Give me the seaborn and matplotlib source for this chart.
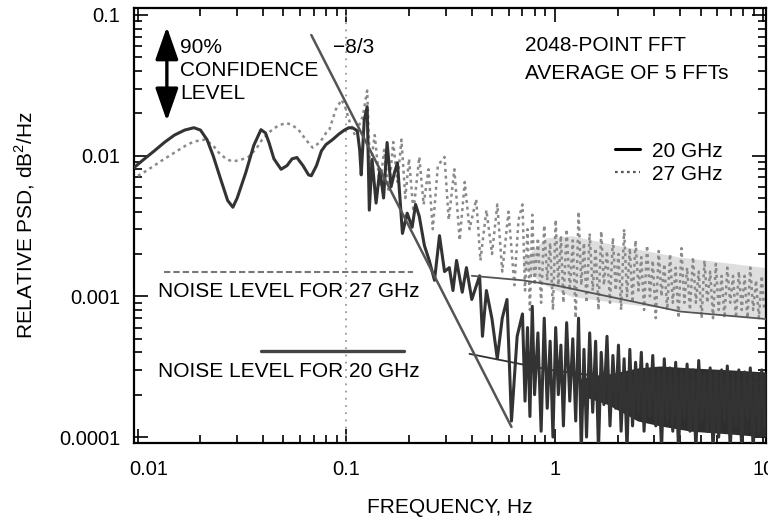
import numpy as np
import pandas as pd
import matplotlib
matplotlib.use("Agg")
import matplotlib.pyplot as plt
import matplotlib.transforms as mtransforms
import seaborn as sns
from matplotlib.lines import Line2D
from matplotlib.ticker import LogLocator, NullFormatter

# ---------------- data ----------------
x_ticks = [0.01, 0.1, 1, 10]
x_tick_labels = ["0.01", "0.1", "1", "10"]
y_ticks = [0.0001, 0.001, 0.01, 0.1]
y_tick_labels = ["0.0001", "0.001", "0.01", "0.1"]

# 20 GHz, low / mid frequencies
f20_lo = [0.0094, 0.0105, 0.012, 0.0135, 0.015, 0.0168, 0.0186, 0.020, 0.0215, 0.023,
          0.025, 0.027, 0.0286, 0.030, 0.033, 0.036, 0.039, 0.041, 0.0426, 0.045,
          0.0487, 0.052, 0.055, 0.058, 0.062, 0.066, 0.068, 0.072, 0.076, 0.080,
          0.086, 0.092, 0.098, 0.103, 0.108, 0.113, 0.116, 0.118, 0.122, 0.126,
          0.129, 0.133, 0.139, 0.145, 0.151, 0.157, 0.164, 0.170, 0.176, 0.186,
          0.196, 0.207, 0.215, 0.224, 0.237, 0.25, 0.265, 0.28, 0.296, 0.312,
          0.325, 0.338, 0.36, 0.377, 0.40, 0.436, 0.45, 0.47, 0.50, 0.53,
          0.56, 0.59, 0.62, 0.66]
p20_lo = [0.0080, 0.0092, 0.0108, 0.0125, 0.0140, 0.0152, 0.0158, 0.0152, 0.0130, 0.0100,
          0.0068, 0.0048, 0.0043, 0.0050, 0.0076, 0.0118, 0.0153, 0.0145, 0.0124, 0.0095,
          0.0080, 0.0085, 0.0095, 0.0097, 0.0085, 0.0073, 0.0072, 0.0085, 0.0108, 0.0120,
          0.0130, 0.0142, 0.0152, 0.0158, 0.0157, 0.0150, 0.0110, 0.0073, 0.0180, 0.0223,
          0.0041, 0.0094, 0.0046, 0.0080, 0.0050, 0.0124, 0.0060, 0.0075, 0.0089, 0.0028,
          0.0039, 0.0031, 0.0045, 0.0037, 0.0023, 0.0018, 0.0013, 0.0027, 0.0015, 0.0016,
          0.0011, 0.0018, 0.00107, 0.0016, 0.00095, 0.0014, 0.00052, 0.0011, 0.00069, 0.00036,
          0.0007, 0.00095, 0.00013, 0.00052]

# 27 GHz, low / mid frequencies
f27_lo = [0.0094, 0.011, 0.013, 0.015, 0.017, 0.0186, 0.021, 0.023, 0.0245, 0.0265,
          0.0284, 0.031, 0.034, 0.037, 0.0395, 0.043, 0.047, 0.0515, 0.055, 0.059,
          0.064, 0.069, 0.075, 0.080, 0.083, 0.089, 0.095, 0.099, 0.103, 0.11,
          0.12, 0.126, 0.13, 0.137, 0.145, 0.152, 0.16, 0.168, 0.176, 0.184,
          0.192, 0.20, 0.21, 0.224, 0.235, 0.248, 0.26, 0.275, 0.296, 0.31,
          0.33, 0.35, 0.37, 0.39, 0.42, 0.44, 0.47, 0.50, 0.53, 0.56,
          0.60, 0.64, 0.67]
p27_lo = [0.0068, 0.0078, 0.0092, 0.0105, 0.0118, 0.0126, 0.0130, 0.0118, 0.0105, 0.0095,
          0.0091, 0.0093, 0.0098, 0.0112, 0.0130, 0.0148, 0.0163, 0.0171, 0.0165, 0.0153,
          0.0130, 0.0114, 0.0125, 0.0145, 0.0153, 0.0212, 0.025, 0.022, 0.018, 0.014,
          0.019, 0.029, 0.008, 0.014, 0.006, 0.011, 0.0055, 0.0125, 0.0065, 0.013,
          0.005, 0.0095, 0.004, 0.0098, 0.0045, 0.008, 0.003, 0.0085, 0.0098, 0.0035,
          0.0080, 0.0025, 0.0065, 0.0030, 0.0049, 0.0018, 0.0041, 0.0020, 0.0045, 0.0015,
          0.0040, 0.0012, 0.0035]

# high-frequency bins (shared by both channels)
f_hi = [0.70, 0.72, 0.74, 0.76, 0.78, 0.80, 0.83, 0.86, 0.89, 0.92,
        0.95, 0.98, 1.01, 1.04, 1.07, 1.10, 1.14, 1.18, 1.22, 1.26,
        1.30, 1.34, 1.38, 1.42, 1.47, 1.52, 1.57, 1.62, 1.67, 1.72,
        1.78, 1.84, 1.90, 1.96, 2.02, 2.08, 2.15, 2.22, 2.29, 2.36,
        2.44, 2.52, 2.60, 2.68, 2.77, 2.86, 2.95, 3.05, 3.15, 3.25,
        3.35, 3.46, 3.57, 3.68, 3.80, 3.92, 4.05, 4.18, 4.31, 4.45,
        4.60, 4.75, 4.90, 5.06, 5.22, 5.39, 5.56, 5.74, 5.92, 6.11,
        6.31, 6.51, 6.72, 6.94, 7.16, 7.39, 7.63, 7.88, 8.13, 8.39,
        8.66, 8.94, 9.23, 9.52, 9.83, 10.1]
p20_hi = [0.00075, 0.00018, 0.00060, 0.00014, 0.00085, 0.00020, 0.00055, 0.00011, 0.00070, 0.00016,
          0.00048, 0.00010, 0.00060, 0.00020, 0.00045, 0.00012, 0.00065, 0.00018, 0.00050, 0.00013,
          0.00070, 0.00008, 0.00042, 0.00010, 0.00055, 0.00015, 0.00048, 0.00008, 0.00040, 0.00017,
          0.00052, 0.00012, 0.00038, 0.00016, 0.00045, 0.00011, 0.00036, 0.00008, 0.00042, 0.00012,
          0.00034, 0.00015, 0.00040, 0.00011, 0.00033, 0.00014, 0.00038, 0.00012, 0.00030, 0.00008,
          0.00036, 0.00013, 0.00031, 0.00011, 0.00034, 0.00008, 0.00029, 0.00014, 0.00033, 0.00011,
          0.00030, 0.00008, 0.00035, 0.00013, 0.00028, 0.00011, 0.00031, 0.00008, 0.00029, 0.00010,
          0.00030, 0.00013, 0.00032, 0.00008, 0.00028, 0.00012, 0.00030, 0.00008, 0.00029, 0.00013,
          0.00031, 0.00008, 0.00028, 0.00011, 0.00030, 0.00012]
p27_hi = [0.0045, 0.0011, 0.0030, 0.0008, 0.0038, 0.0012, 0.0026, 0.0009, 0.0032, 0.0013,
          0.0024, 0.0008, 0.0035, 0.0012, 0.0027, 0.0009, 0.0030, 0.0011, 0.0025, 0.0007,
          0.0040, 0.0012, 0.0024, 0.0009, 0.0028, 0.0011, 0.0022, 0.0008, 0.0029, 0.0012,
          0.0021, 0.0009, 0.0026, 0.0011, 0.0020, 0.0008, 0.0030, 0.0010, 0.0022, 0.0009,
          0.0025, 0.0011, 0.0019, 0.0008, 0.0023, 0.0010, 0.0018, 0.0007, 0.0021, 0.0010,
          0.0017, 0.0008, 0.0020, 0.0009, 0.0016, 0.0007, 0.0022, 0.0009, 0.0016, 0.0008,
          0.0019, 0.0009, 0.0015, 0.0007, 0.0018, 0.0009, 0.0015, 0.0007, 0.0017, 0.0008,
          0.0014, 0.0007, 0.0016, 0.0009, 0.0014, 0.0007, 0.0015, 0.0008, 0.0014, 0.0007,
          0.0016, 0.0008, 0.0013, 0.0007, 0.0014, 0.0008]

# dense cores of the high-frequency scatter (envelopes)
band20_f = [1.3, 1.8, 2.5, 3.2, 4.5, 7.0, 10.3]
band20_lo = [0.00020, 0.00017, 0.00013, 0.00012, 0.00011, 0.000105, 0.0001]
band20_hi = [0.00026, 0.00028, 0.00031, 0.00032, 0.00031, 0.00030, 0.00029]
band27_f = [0.7, 0.9, 1.2, 2.0, 4.0, 10.3]
band27_lo = [0.0016, 0.0012, 0.0010, 0.0009, 0.0008, 0.0007]
band27_hi = [0.0018, 0.0026, 0.0027, 0.0023, 0.0019, 0.0016]

# noise levels
noise27_flat_f = [0.0133, 0.21]
noise27_flat_p = [0.0015, 0.0015]
noise27_floor_f = [0.40, 0.7, 1.0, 1.8, 4.0, 10.3]
noise27_floor_p = [0.0014, 0.0013, 0.0012, 0.0010, 0.00078, 0.00069]
noise20_flat_f = [0.039, 0.19]
noise20_flat_p = [0.00041, 0.00041]
noise20_floor_f = [0.39, 0.95, 2.0, 10.3]
noise20_floor_p = [0.00039, 0.00030, 0.00026, 0.00024]

# -8/3 slope reference line
slope_f = [0.068, 0.62]
slope_p = [0.072, 0.000118]

# ---------------- plotting ----------------
sns.set_theme(style="ticks")
plt.rcParams["font.family"] = ["Liberation Sans", "DejaVu Sans"]
plt.rcParams["mathtext.fontset"] = "custom"
plt.rcParams["mathtext.rm"] = "Liberation Sans"
plt.rcParams["text.color"] = "black"
plt.rcParams["axes.labelcolor"] = "black"

fig = plt.figure(figsize=(7.68, 5.18), dpi=100)
ax = fig.add_axes([134 / 768, 75 / 518, 632 / 768, 435 / 518])

df20 = pd.DataFrame({"f": f20_lo + f_hi, "p": p20_lo + p20_hi})
df27 = pd.DataFrame({"f": f27_lo + f_hi, "p": p27_lo + p27_hi})

ax.set_xscale("log")
ax.set_yscale("log")

ax.axvline(0.1, color="#9a9a9a", lw=1.3, ls=(0, (1, 3)), zorder=1)

ax.fill_between(band27_f, band27_lo, band27_hi, color="#dedede", lw=0, zorder=1)
sns.lineplot(data=df27, x="f", y="p", sort=False, estimator=None, ax=ax,
             color="#8a8a8a", lw=1.8, ls=(0, (1.2, 1.5)), zorder=2)
ax.fill_between(band20_f, band20_lo, band20_hi, color="#2e2e2e", lw=0, zorder=3)
sns.lineplot(data=df20, x="f", y="p", sort=False, estimator=None, ax=ax,
             color="#333333", lw=2.2, zorder=3)

ax.plot(noise27_flat_f, noise27_flat_p, color="#777777", lw=1.5, ls=(0, (3, 1.5)), zorder=2)
ax.plot(noise27_floor_f, noise27_floor_p, color="#555555", lw=1.3, zorder=3)
ax.plot(noise20_flat_f, noise20_flat_p, color="#444444", lw=2.4, zorder=3)
ax.plot(noise20_floor_f, noise20_floor_p, color="#333333", lw=1.3, zorder=3)
ax.plot(slope_f, slope_p, color="#555555", lw=1.8, zorder=4)

ax.set_xlim(0.0096, 10.3)
ax.set_ylim(0.0000907, 0.1121)

ax.set_xticks(x_ticks, labels=x_tick_labels)
ax.set_yticks(y_ticks, labels=y_tick_labels)
ax.xaxis.set_minor_locator(LogLocator(base=10, subs=np.arange(2, 10)))
ax.yaxis.set_minor_locator(LogLocator(base=10, subs=np.arange(2, 10)))
ax.xaxis.set_minor_formatter(NullFormatter())
ax.yaxis.set_minor_formatter(NullFormatter())
ax.tick_params(which="both", direction="in", top=True, right=True, colors="black",
               labelsize=14.5, width=1.2)
ax.tick_params(which="major", length=10)
ax.tick_params(axis="x", which="major", pad=12)
ax.tick_params(axis="y", which="major", pad=10)
ax.tick_params(which="minor", length=6)
for s in ax.spines.values():
    s.set_linewidth(1.6)
    s.set_color("black")

# the first x label sits a little right of its tick in the reference
offset = mtransforms.ScaledTranslation(8 / 72, 0, fig.dpi_scale_trans)
first_lab = ax.xaxis.get_majorticklabels()[0]
first_lab.set_transform(first_lab.get_transform() + offset)

ax.set_xlabel("FREQUENCY, Hz", fontsize=15, labelpad=14)
ax.set_ylabel("RELATIVE PSD, dB$^2$/Hz", fontsize=15, labelpad=16)

# annotations
ax.annotate("", xy=(0.052, 0.734), xytext=(0.052, 0.963), xycoords="axes fraction",
            arrowprops=dict(arrowstyle="<|-|>,head_length=0.8,head_width=0.28",
                            color="black", lw=2.4, mutation_scale=25))
ax.text(0.073, 0.931, "90%\nCONFIDENCE\nLEVEL", transform=ax.transAxes, fontsize=15,
        va="top", ha="left", linespacing=1.25)
ax.text(0.315, 0.931, "\u22128/3", transform=ax.transAxes, fontsize=15, va="top", ha="left")
ax.text(0.619, 0.936, "2048-POINT FFT\nAVERAGE OF 5 FFTs", transform=ax.transAxes,
        fontsize=15, va="top", ha="left", linespacing=1.62)
ax.text(0.038, 0.3356, "NOISE LEVEL FOR 27 GHz", transform=ax.transAxes, fontsize=15,
        va="baseline", ha="left")
ax.text(0.038, 0.1517, "NOISE LEVEL FOR 20 GHz", transform=ax.transAxes, fontsize=15,
        va="baseline", ha="left")

handles = [Line2D([], [], color="black", lw=2.2),
           Line2D([], [], color="#555555", lw=1.6, ls=(0, (1.2, 1.5)))]
ax.legend(handles, ["20 GHz", "27 GHz"], loc="upper left", bbox_to_anchor=(0.761, 0.693),
          frameon=False, fontsize=15, handlelength=1.2, handletextpad=0.57,
          labelspacing=0.2, borderaxespad=0, borderpad=0)

fig.savefig("out.png", dpi=100)
